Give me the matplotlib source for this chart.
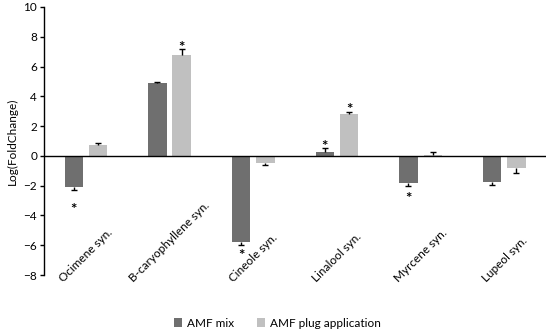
import numpy as np
from matplotlib import pyplot as plt
from matplotlib.transforms import offset_copy

plt.rcParams['font.family'] = ['Lato', 'DejaVu Sans']

genes = ['Ocimene syn.', 'B-caryophyllene syn.', 'Cineole syn.',
         'Linalool syn.', 'Myrcene syn.', 'Lupeol syn.']
amf_mix = [-2.1, 4.9, -5.75, 0.28, -1.8, -1.72]
amf_mix_err = [0.2, 0.08, 0.2, 0.25, 0.2, 0.22]
amf_plug = [0.72, 6.75, -0.45, 2.8, 0.07, -0.8]
amf_plug_err = [0.18, 0.4, 0.15, 0.15, 0.2, 0.35]
# where the significance stars sit (y value), None = no star
star_mix = [-3.3, None, -6.4, 0.9, -2.55, None]
star_plug = [None, 7.6, None, 3.4, None, None]

dark = '#6f6f6f'
light = '#c0c0c0'

fig = plt.figure(figsize=(5.5, 3.33), dpi=100)
ax = fig.add_axes([0.08, 0.174, 0.913, 0.805])

x = np.arange(len(genes))
w = 0.22
off = 0.145

def draw_err(xs, vals, errs):
    # one-sided error bar pointing away from zero, cap only at the far end
    vals = np.asarray(vals)
    ends = vals + np.sign(vals + 1e-9) * np.asarray(errs)
    ax.vlines(xs, vals, ends, color='black', lw=1, zorder=3)
    ax.plot(xs, ends, ls='none', marker='_', ms=5, mew=1, color='black', zorder=3)

ax.bar(x - off, amf_mix, w, color=dark, label='AMF mix')
ax.bar(x + off, amf_plug, w, color=light, label='AMF plug application')
draw_err(x - off, amf_mix, amf_mix_err)
draw_err(x + off, amf_plug, amf_plug_err)

# the '*' glyph sits high in its box, nudge it down a bit
star_tr = offset_copy(ax.transData, fig=fig, y=-3.5, units='points')
for i, s in enumerate(star_mix):
    if s is not None:
        ax.text(x[i] - off, s, '*', ha='center', va='center', fontsize=11,
                fontweight='bold', transform=star_tr)
for i, s in enumerate(star_plug):
    if s is not None:
        ax.text(x[i] + off, s, '*', ha='center', va='center', fontsize=11,
                fontweight='bold', transform=star_tr)

ax.axhline(0, color='black', lw=1)
ax.set_xlim(-0.5, len(genes) - 0.5)
ax.set_ylim(-8, 10)
ax.set_yticks(np.arange(-8, 11, 2))
ax.set_yticklabels([str(v).replace('-', '\u2212') for v in range(-8, 11, 2)])
ax.tick_params(axis='y', direction='out', length=3, width=1, labelsize=8.5, pad=2)
ax.set_xticks([])
for sp in ['top', 'right', 'bottom']:
    ax.spines[sp].set_visible(False)
ax.spines['left'].set_linewidth(1)
ax.set_ylabel('Log(FoldChange)', fontsize=8.5, labelpad=4)

# rotated category labels, bottom edge just under the plot
for i, g in enumerate(genes):
    ax.text(x[i], -0.034, g, transform=ax.get_xaxis_transform(), rotation=45,
            ha='center', va='bottom', fontsize=8.5)

fig.legend(loc='center', bbox_to_anchor=(0.504, 0.03), ncol=2, frameon=False,
           fontsize=8.5, handlelength=0.7, handleheight=0.7, columnspacing=1.9,
           handletextpad=0.4)

fig.savefig('out.png', dpi=100)
